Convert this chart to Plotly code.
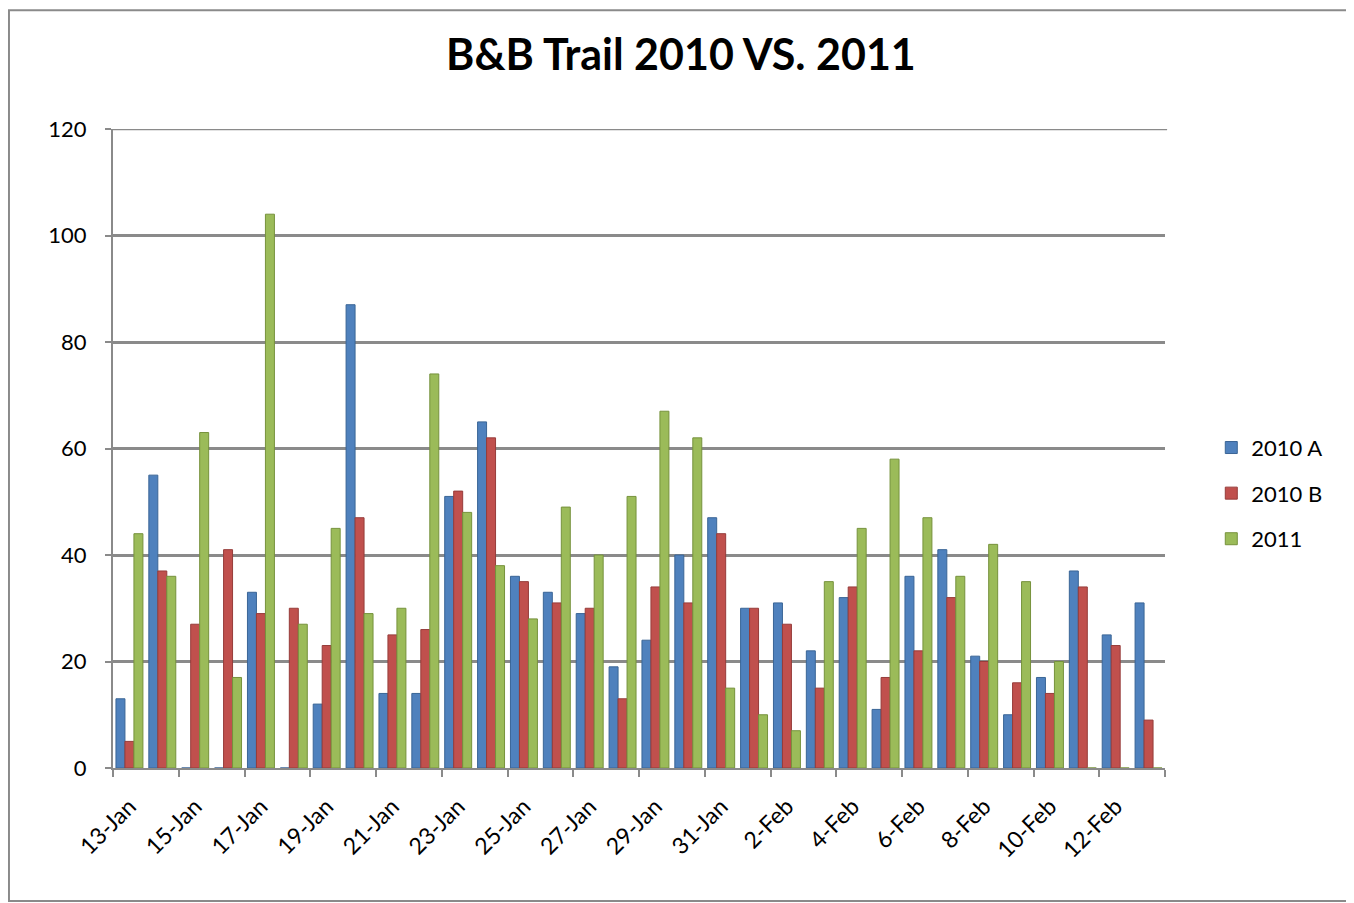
import plotly.graph_objects as go

days = ['13-Jan', '14-Jan', '15-Jan', '16-Jan', '17-Jan', '18-Jan', '19-Jan', '20-Jan',
        '21-Jan', '22-Jan', '23-Jan', '24-Jan', '25-Jan', '26-Jan', '27-Jan', '28-Jan',
        '29-Jan', '30-Jan', '31-Jan', '1-Feb', '2-Feb', '3-Feb', '4-Feb', '5-Feb',
        '6-Feb', '7-Feb', '8-Feb', '9-Feb', '10-Feb', '11-Feb', '12-Feb', '13-Feb']

a2010 = [13, 55, 0, 0, 33, 0, 12, 87, 14, 14, 51, 65, 36, 33, 29, 19,
         24, 40, 47, 30, 31, 22, 32, 11, 36, 41, 21, 10, 17, 37, 25, 31]
b2010 = [5, 37, 27, 41, 29, 30, 23, 47, 25, 26, 52, 62, 35, 31, 30, 13,
         34, 31, 44, 30, 27, 15, 34, 17, 22, 32, 20, 16, 14, 34, 23, 9]
y2011 = [44, 36, 63, 17, 104, 27, 45, 29, 30, 74, 48, 38, 28, 49, 40, 51,
         67, 62, 15, 10, 7, 35, 45, 58, 47, 36, 42, 35, 20, 0, 0, 0]

series = [('2010 A', a2010, '#4F81BD', '#3a6596'),
          ('2010 B', b2010, '#C0504D', '#963c3a'),
          ('2011', y2011, '#9BBB59', '#76923c')]

xpos = list(range(len(days)))
grid_col = '#8a8a8a'

fig = go.Figure()
for name, vals, col, edge in series:
    fig.add_trace(go.Bar(x=xpos, y=vals, name=name, legendgroup=name,
                         marker=dict(color=col, line=dict(color=edge, width=1))))

# page body adds an 8px offset, so margins are shifted by that much
fig.update_layout(
    width=1354, height=903,
    margin=dict(l=105, r=197, t=121, b=143),
    paper_bgcolor='white', plot_bgcolor='white',
    font=dict(family='Lato, Open Sans, sans-serif', size=22, color='black'),
    title=dict(text='<b>B&B Trail 2010 VS. 2011</b>', x=0.497, xanchor='center',
               y=0.948, yanchor='middle', font=dict(size=43)),
    barmode='group', bargap=0.18, bargroupgap=0,
    legend=dict(x=1.044, xanchor='left', y=0.43, yanchor='middle',
                traceorder='grouped', tracegroupgap=14, font=dict(size=22)),
)

fig.update_xaxes(
    range=[-0.5, len(days) - 0.5],
    tickvals=xpos[::2], ticktext=days[::2], tickangle=-45,
    ticks='', showgrid=False, zeroline=False,
    showline=True, linecolor=grid_col, linewidth=2,
    minor=dict(tickvals=[i - 0.5 for i in range(0, len(days) + 1, 2)],
               ticks='outside', ticklen=7, tickcolor=grid_col, tickwidth=2),
    ticklabelstandoff=14, tickfont=dict(size=23),
)
fig.update_yaxes(
    range=[0, 120], tickvals=[0, 20, 40, 60, 80, 100, 120],
    showgrid=True, gridcolor=grid_col, gridwidth=2.5, zeroline=False,
    showline=True, linecolor=grid_col, linewidth=2,
    ticks='outside', ticklen=6, tickcolor=grid_col, tickwidth=2,
    ticklabelstandoff=14, tickfont=dict(size=22),
)

# top gridline at 120
fig.add_shape(type='line', xref='paper', yref='y', x0=0, x1=1.002, y0=120, y1=120,
              line=dict(color=grid_col, width=2.5))

# chart area border
fig.add_shape(type='rect', xref='paper', yref='paper',
              x0=-0.0989, x1=1.1768, y0=-0.208, y1=1.186,
              line=dict(color=grid_col, width=2), layer='below')

fig.write_html("out.html")
